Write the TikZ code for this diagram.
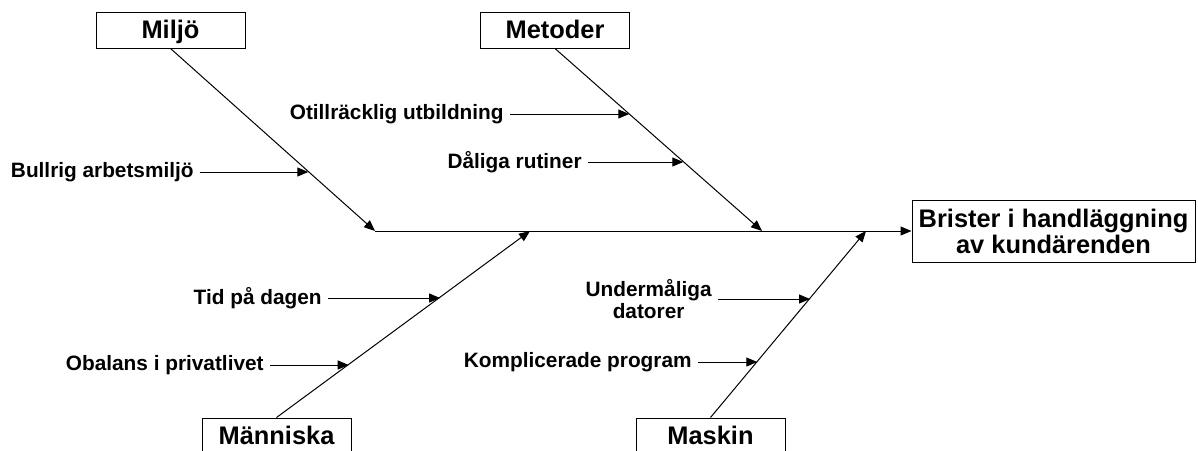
\documentclass[tikz,border=0pt]{standalone}
\usepackage{fontspec}
\setmainfont{Liberation Sans}
\usetikzlibrary{arrows.meta}

\tikzset{
    kategori/.style = {
        draw,
        line width=0.5pt,
        minimum width=74.5pt,
        minimum height=18pt,
        inner sep=0pt,
        text height=11.2pt,
        text depth=2.4pt,
        font=\fontsize{12.7}{13}\selectfont\bfseries
    },
    effekt/.style = {
        draw,
        line width=0.5pt,
        minimum width=141.5pt,
        minimum height=31pt,
        inner sep=0pt,
        align=center,
        font=\fontsize{12.7}{13}\selectfont\bfseries
    },
    orsak/.style = {
        inner sep=3pt,
        anchor=east,
        align=center,
        font=\fontsize{10.4}{11}\selectfont\bfseries
    },
    ben/.style = {
        line width=0.5pt,
        -{Triangle[length=5.5pt,width=4.5pt]}
    }
}

\begin{document}
\begin{tikzpicture}[x=0.5pt, y=-0.5pt]
    \clip (0,0) rectangle (1198,450);
    \useasboundingbox (0,0) rectangle (1198,450);

    % Draw all boxes
    \node[kategori] (miljo)    at (170.5,30)  {Miljö};
    \node[kategori] (metoder)  at (555,30)    {Metoder};
    \node[kategori] (manniska) at (276.5,436) {Människa};
    \node[kategori] (maskin)   at (710.5,436) {Maskin};
    \node[effekt]   (brister)  at (1053.5,231) {Brister i handläggning\\av kundärenden};

    % Points on the spine
    \coordinate (h1) at (375,231);
    \coordinate (h2) at (530,231);
    \coordinate (h3) at (762,231);
    \coordinate (h4) at (866,231);

    % Draw spine and bones
    \draw[ben] (h1) -- (brister.west);
    \draw[ben] (miljo.south)    -- (h1);
    \draw[ben] (metoder.south)  -- (h3);
    \draw[ben] (manniska.north) -- (h2);
    \draw[ben] (maskin.north)   -- (h4);

    % Draw causes
    \node[orsak] (bullrig) at (200,172) {Bullrig arbetsmiljö};
    \node[orsak] (otillr)  at (510,114) {Otillräcklig utbildning};
    \node[orsak] (daliga)  at (588,162) {Dåliga rutiner};
    \node[orsak] (tid)     at (328,298) {Tid på dagen};
    \node[orsak] (obalans) at (270,365) {Obalans i privatlivet};
    \node[orsak] (under)   at (718,299) {Undermåliga\\datorer};
    \node[orsak] (kompl)   at (698,362) {Komplicerade program};

    \coordinate (b1) at (308.3,172);
    \coordinate (b2) at (629.3,114);
    \coordinate (b3) at (683.3,162);
    \coordinate (b4) at (440.1,298);
    \coordinate (b5) at (348.7,365);
    \coordinate (b6) at (810,299);
    \coordinate (b7) at (757.3,362);

    \draw[ben] (bullrig) -- (b1);
    \draw[ben] (otillr)  -- (b2);
    \draw[ben] (daliga)  -- (b3);
    \draw[ben] (tid)     -- (b4);
    \draw[ben] (obalans) -- (b5);
    \draw[ben] (under)   -- (b6);
    \draw[ben] (kompl)   -- (b7);
\end{tikzpicture}
\end{document}
